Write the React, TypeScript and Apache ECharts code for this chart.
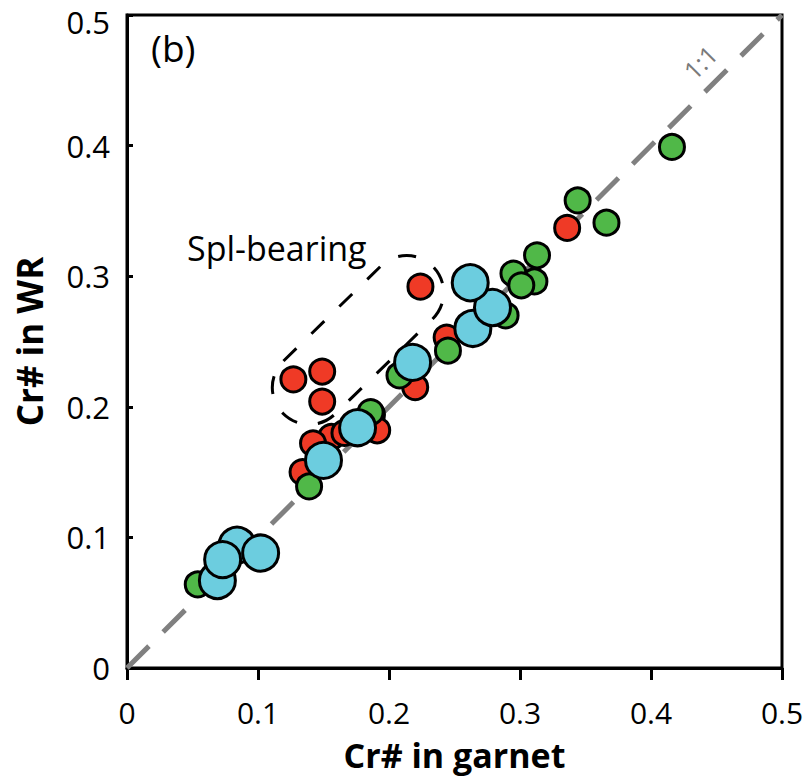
import React, { useEffect, useRef } from "react";
import * as echarts from "echarts";

// Cr# in garnet (x) vs Cr# in WR (y)
const redX = [0.336, 0.224, 0.244, 0.220, 0.127, 0.149, 0.149, 0.187, 0.191, 0.156, 0.166, 0.142, 0.134];
const redY = [0.337, 0.292, 0.253, 0.215, 0.221, 0.227, 0.204, 0.194, 0.182, 0.177, 0.180, 0.172, 0.150];

const greenX = [0.416, 0.344, 0.366, 0.313, 0.295, 0.311, 0.301, 0.289, 0.245, 0.208, 0.186, 0.139, 0.054];
const greenY = [0.399, 0.358, 0.341, 0.316, 0.302, 0.296, 0.293, 0.270, 0.243, 0.224, 0.196, 0.139, 0.064];

const cyanX = [0.264, 0.279, 0.262, 0.218, 0.176, 0.150, 0.069, 0.084, 0.102, 0.073];
const cyanY = [0.260, 0.276, 0.295, 0.234, 0.184, 0.159, 0.067, 0.094, 0.088, 0.083];

const oneToOne = [0, 0.5];
const axisTicks = [0, 0.1, 0.2, 0.3, 0.4, 0.5];

const FONT = "'Open Sans', 'Noto Sans', sans-serif";

const pairs = (xs: number[], ys: number[]) => xs.map((x, i) => [x, ys[i]]);

export default function App() {
  const ref = useRef<HTMLDivElement>(null);
  useEffect(() => {
    if (!ref.current) return;
    const chart = echarts.init(ref.current, null, { renderer: "svg" });
    const dotBorder = { borderColor: "#000", borderWidth: 3, opacity: 1 };
    const yMax = axisTicks[axisTicks.length - 1];
    chart.setOption({
      animation: false,
      backgroundColor: "#fff",
      grid: {
        left: 127,
        top: 15,
        right: 24,
        bottom: 110,
        show: true,
        borderColor: "#000",
        borderWidth: 3,
        backgroundColor: "transparent",
        containLabel: false,
        outerBoundsMode: "none",
      },
      xAxis: {
        type: "value",
        min: axisTicks[0],
        max: axisTicks[axisTicks.length - 1],
        interval: 0.1,
        name: "Cr# in garnet",
        nameLocation: "middle",
        nameGap: 70,
        nameTextStyle: { fontFamily: FONT, fontWeight: "bold", fontSize: 34, lineHeight: 34, color: "#000" },
        axisLine: { show: true, lineStyle: { color: "#000", width: 3 } },
        axisTick: { show: true, inside: false, length: 12, lineStyle: { color: "#000", width: 3 } },
        axisLabel: { fontFamily: FONT, fontSize: 30, lineHeight: 28, color: "#000", margin: 30 },
        splitLine: { show: false },
      },
      yAxis: {
        type: "value",
        min: axisTicks[0],
        max: yMax,
        interval: 0.1,
        name: "Cr# in WR",
        nameLocation: "middle",
        nameGap: 80,
        nameTextStyle: { fontFamily: FONT, fontWeight: "bold", fontSize: 35, lineHeight: 35, color: "#000" },
        axisLine: { show: true, lineStyle: { color: "#000", width: 3 } },
        axisTick: { show: true, inside: true, length: 6, lineStyle: { color: "#000", width: 3 } },
        axisLabel: {
          fontFamily: FONT,
          fontSize: 31,
          lineHeight: 28,
          color: "#000",
          margin: 17,
          formatter: (v: number) => (Math.abs(v - yMax) < 1e-9 ? "{t|" + v + "}" : String(v)),
          rich: {
            t: { fontFamily: FONT, fontSize: 31, lineHeight: 22, padding: [14, 0, 0, 0], color: "#000" },
          },
        },
        splitLine: { show: false },
      },
      series: [
        {
          name: "1:1",
          type: "line",
          data: [
            [oneToOne[0], oneToOne[0]],
            [oneToOne[1], oneToOne[1]],
          ],
          symbol: "none",
          silent: true,
          z: 1,
          lineStyle: { color: "#808080", width: 5, type: [31, 20] },
        },
        {
          name: "red",
          type: "scatter",
          data: pairs(redX, redY),
          symbolSize: 25,
          z: 2,
          itemStyle: { color: "#EF3A26", ...dotBorder },
        },
        {
          name: "green",
          type: "scatter",
          data: pairs(greenX, greenY),
          symbolSize: 25,
          z: 3,
          itemStyle: { color: "#50B848", ...dotBorder },
        },
        {
          name: "cyan",
          type: "scatter",
          data: pairs(cyanX, cyanY),
          symbolSize: 36,
          z: 4,
          itemStyle: { color: "#6CCDDF", ...dotBorder },
        },
      ],
      graphic: [
        {
          type: "text",
          x: 151,
          y: 47,
          style: {
            text: "(b)",
            fontFamily: FONT,
            fontSize: 37,
            fill: "#000",
            textAlign: "left",
            textVerticalAlign: "middle",
          },
        },
        {
          type: "text",
          x: 187,
          y: 248,
          style: {
            text: "Spl-bearing",
            fontFamily: FONT,
            fontSize: 34,
            fill: "#000",
            textAlign: "left",
            textVerticalAlign: "middle",
          },
        },
        {
          type: "text",
          x: 700,
          y: 62,
          rotation: Math.PI / 4,
          style: {
            text: "1:1",
            fontFamily: FONT,
            fontSize: 25,
            fill: "#7a7a7a",
            textAlign: "center",
            textVerticalAlign: "middle",
          },
        },
        {
          type: "rect",
          x: 358,
          y: 340,
          rotation: 0.773,
          z: 5,
          shape: { x: -105, y: -37, width: 210, height: 74, r: 37 },
          style: { fill: "none", stroke: "#000", lineWidth: 3, lineDash: [18, 21] },
        },
      ],
    });
    return () => chart.dispose();
  }, []);
  return (
    <div
      ref={ref}
      style={{ position: "fixed", left: 0, top: 0, width: 806, height: 778, background: "#fff" }}
    />
  );
}
